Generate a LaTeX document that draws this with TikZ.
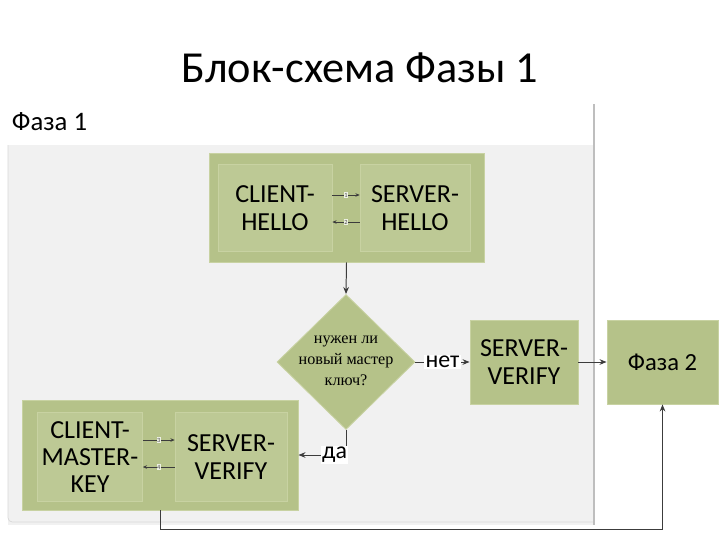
\documentclass[tikz,border=0pt]{standalone}
\usepackage{fontspec}
\setmainfont{Carlito}
\newfontfamily\diamondfont{Liberation Serif}
\usetikzlibrary{arrows.meta, shapes.geometric}

\definecolor{boxgreen}{RGB}{181,194,137}
\definecolor{innergreen}{RGB}{189,201,149}
\definecolor{edgegreen}{RGB}{200,210,162}
\definecolor{panelgray}{RGB}{241,241,241}
\definecolor{panelline}{RGB}{190,190,190}
\definecolor{linegray}{RGB}{60,60,60}

\begin{document}
\begin{tikzpicture}[
  x=0.025cm, y=-0.025cm,
  box/.style={fill=boxgreen, draw=edgegreen, line width=0.6pt, inner sep=0pt},
  inbox/.style={fill=innergreen, draw=edgegreen, line width=0.4pt,
                align=center, inner sep=0pt,
                font=\fontsize{18.5}{19.5}\selectfont},
  arr/.style={-{Stealth[length=5pt, width=4pt]}, draw=linegray, line width=0.7pt},
  smallarr/.style={-{Stealth[length=3pt, width=2.5pt]}, draw=linegray, line width=0.5pt},
  num/.style={font=\fontsize{4.5}{5}\selectfont, fill=white!75!innergreen,
              inner sep=0.4pt, text=black!70},
  lbl/.style={fill=white, inner sep=1pt, font=\fontsize{17}{18}\selectfont},
]
  \useasboundingbox (0,0) rectangle (720,540);

  %% ── Title ──
  \node[font=\fontsize{31.5}{33}\selectfont] (title) at (360,68) {Блок-схема Фазы 1};

  %% ── Phase 1 panel ──
  \fill[panelgray] (8,145) rectangle (594,525);
  \draw[panelline!60, line width=0.5pt, rounded corners=3pt] (8,145) |- (594,522);
  \draw[panelline, line width=0.8pt] (594,104) -- (594,525);
  \node[anchor=west, font=\fontsize{19}{20}\selectfont] (phaselbl) at (7,122) {Фаза 1};

  %% ── Hello exchange ──
  \node[box, minimum width=6.875cm, minimum height=2.725cm] (hello) at (346.5,207.5) {};
  \node[inbox, minimum width=2.85cm, minimum height=2.175cm] (chello) at (275,208)
    {CLIENT-\\HELLO};
  \node[inbox, minimum width=2.75cm, minimum height=2.175cm] (shello) at (415,208)
    {SERVER-\\HELLO};
  \draw[smallarr] ([yshift=0.325cm]chello.east) -- node[num] {1} ([yshift=0.325cm]shello.west);
  \draw[smallarr] ([yshift=-0.35cm]shello.west) -- node[num] {2} ([yshift=-0.35cm]chello.east);

  %% ── Decision ──
  \node[diamond, fill=boxgreen, draw=edgegreen, line width=0.6pt, inner sep=0pt,
        minimum width=3.45cm, minimum height=3.375cm] (decide) at (346,362) {};
  \node[align=center, font=\diamondfont\fontsize{11.5}{15}\selectfont] (decidetext)
    at ([yshift=0.03cm]decide.center) {нужен ли\\новый мастер\\ключ?};

  %% ── Server verify / Phase 2 ──
  \node[box, minimum width=2.7cm, minimum height=2.1cm, align=center,
        font=\fontsize{18.5}{20}\selectfont] (sverify) at (524,362) {SERVER-\\VERIFY};
  \node[box, minimum width=2.775cm, minimum height=2.1cm,
        font=\fontsize{17.5}{19}\selectfont] (phase2) at (662.5,362) {Фаза 2};

  %% ── Master key exchange ──
  \node[box, minimum width=6.9cm, minimum height=2.75cm] (masterkey) at (160,455) {};
  \node[inbox, minimum width=2.625cm, minimum height=2.225cm] (cmkey) at (90,457)
    {CLIENT-\\MASTER-\\KEY};
  \node[inbox, minimum width=2.8cm, minimum height=2.225cm] (mverify) at (231,457)
    {SERVER-\\VERIFY};
  \draw[smallarr] ([yshift=0.425cm]cmkey.east) -- node[num] {3} ([yshift=0.425cm]mverify.west);
  \draw[smallarr] ([yshift=-0.25cm]mverify.west) -- node[num] {4} ([yshift=-0.25cm]cmkey.east);

  %% ═══════ ARROWS ═══════
  \draw[arr] (hello.south) -- (decide.north);
  \draw[arr] (decide.east) -- node[lbl] {нет} (sverify.west);
  \draw[arr] (sverify.east) -- (phase2.west);
  \draw[arr] (decide.south) |- node[lbl, pos=0.62] {да} (masterkey.east);

  \coordinate (loopbase) at (0,529);
  \draw[arr] (masterkey.south) |- (phase2.south |- loopbase) -- (phase2.south);
\end{tikzpicture}
\end{document}
